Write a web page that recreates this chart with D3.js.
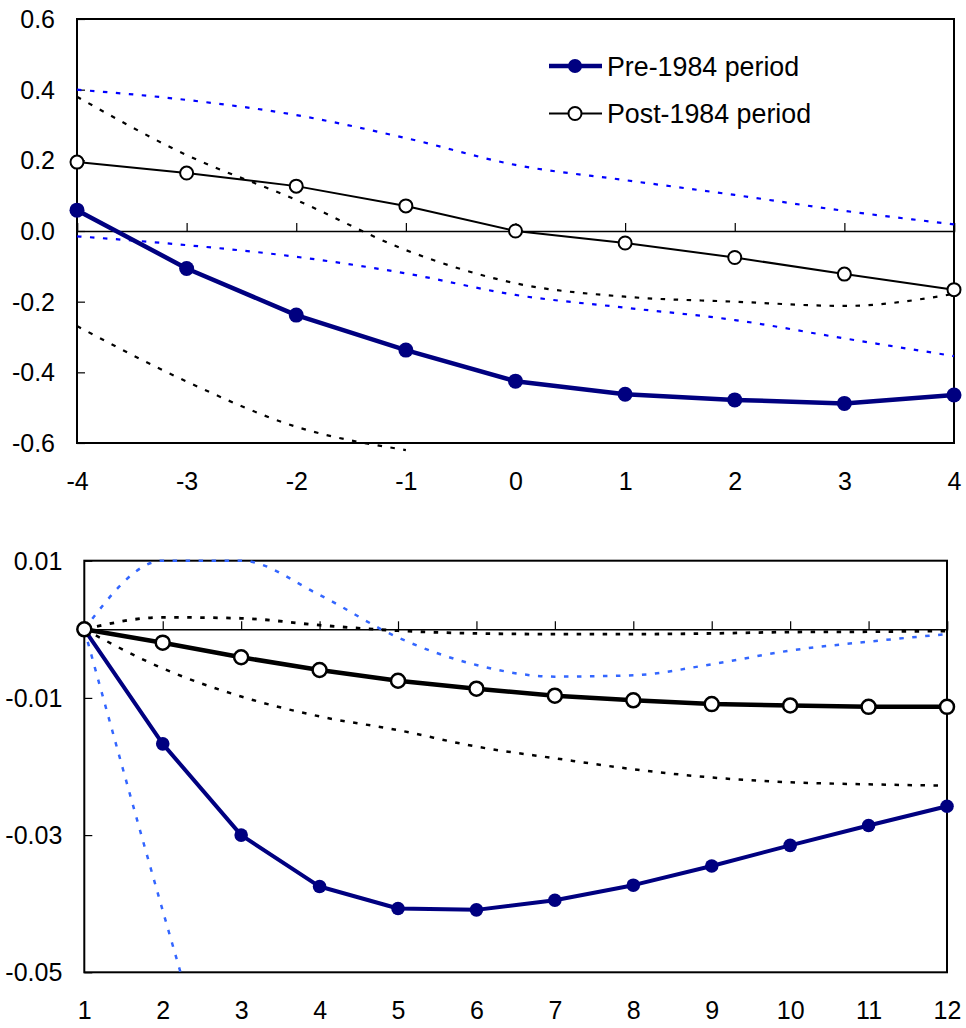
<!DOCTYPE html>
<html>
<head>
<meta charset="utf-8">
<script src="https://cdn.jsdelivr.net/npm/d3@7"></script>
<style>
  html, body { margin: 0; padding: 0; background: #fff; }
  svg { display: block; font-family: "Liberation Sans", Arial, sans-serif; }
</style>
</head>
<body>
<svg id="chart" width="966" height="1028"></svg>
<script>
// ---------- Top panel data ----------
const topX = [-4, -3, -2, -1, 0, 1, 2, 3, 4];
const topPre = [0.059, -0.106, -0.238, -0.337, -0.425, -0.462, -0.478, -0.488, -0.464];
const topPost = [0.195, 0.164, 0.127, 0.071, 0.0, -0.034, -0.075, -0.122, -0.166];
const topPostUpper = [0.40, 0.371, 0.328, 0.263, 0.187, 0.144, 0.102, 0.057, 0.019];
const topPostLower = [-0.015, -0.040, -0.073, -0.120, -0.181, -0.217, -0.252, -0.304, -0.354];
const topPreUpper = [0.38, 0.215, 0.088, -0.054, -0.148, -0.186, -0.200, -0.212, -0.178];
const topPreLower = [-0.269, -0.426, -0.554, -0.62, null, null, null, null, null];
const topYTicks = [0.6, 0.4, 0.2, 0.0, -0.2, -0.4, -0.6];
const topYLabels = ["0.6", "0.4", "0.2", "0.0", "-0.2", "-0.4", "-0.6"];
const topXLabels = ["-4", "-3", "-2", "-1", "0", "1", "2", "3", "4"];

// ---------- Bottom panel data ----------
const botX = [1, 2, 3, 4, 5, 6, 7, 8, 9, 10, 11, 12];
const botPre = [0, -0.0167, -0.0300, -0.0375, -0.0407, -0.0409, -0.0395, -0.0373, -0.0345, -0.0315, -0.0286, -0.0258];
const botPost = [0, -0.00195, -0.00408, -0.00593, -0.0075, -0.00866, -0.00968, -0.01035, -0.0109, -0.0111, -0.0113, -0.0113];
const botPreUpper = [0, 0.0100, 0.0100, 0.0050, -0.0012, -0.0052, -0.0069, -0.0067, -0.0051, -0.0031, -0.0018, -0.0007];
const botPreLower = [0, -0.041, -0.080, null, null, null, null, null, null, null, null, null];
const botPostUpper = [0, 0.00175, 0.0016, 0.0006, -0.0002, -0.0006, -0.0007, -0.0007, -0.0006, -0.0004, -0.00035, -0.00025];
const botPostLower = [0, -0.0057, -0.0098, -0.0127, -0.0147, -0.0171, -0.0188, -0.0204, -0.0216, -0.0223, -0.0226, -0.0228];
const botYTicks = [0.01, -0.01, -0.03, -0.05];
const botYLabels = ["0.01", "-0.01", "-0.03", "-0.05"];
const botXLabels = ["1", "2", "3", "4", "5", "6", "7", "8", "9", "10", "11", "12"];

const legendLabels = ["Pre-1984 period", "Post-1984 period"];

const NAVY = "#000080";
const BLUE_TOP = "#0000ff";
const BLUE_BOT = "#3366ff";
const DASH = "4.5,8.5";
const FONT = '"Liberation Sans", Arial, sans-serif';

const svg = d3.select("#chart");

function panel(cfg) {
  const x = d3.scaleLinear().domain(cfg.xDomain).range([cfg.left, cfg.right]);
  const y = d3.scaleLinear().domain(cfg.yDomain).range([cfg.bottom, cfg.top]);
  const g = svg.append("g");

  const clipId = "clip" + cfg.id;
  if (cfg.clip) {
    svg.append("defs").append("clipPath").attr("id", clipId)
      .append("rect").attr("x", cfg.left).attr("y", cfg.top - 2)
      .attr("width", cfg.right - cfg.left).attr("height", cfg.bottom - cfg.top + 2);
  }

  // frame
  g.append("rect")
    .attr("x", cfg.left).attr("y", cfg.top)
    .attr("width", cfg.right - cfg.left).attr("height", cfg.bottom - cfg.top)
    .attr("fill", "none").attr("stroke", "#000").attr("stroke-width", 2);

  // zero axis with upward ticks
  const xAxisZero = d3.axisTop(x).tickValues(cfg.xs).tickSize(8).tickFormat("");
  g.append("g").attr("transform", `translate(0,${y(0)})`).call(xAxisZero)
    .call(s => s.select(".domain").attr("stroke", "#000").attr("stroke-width", 1.5))
    .call(s => s.selectAll(".tick line").attr("stroke", "#000").attr("stroke-width", 1.2));

  // x labels below frame
  const xLab = d3.axisBottom(x).tickValues(cfg.xs).tickSize(0)
    .tickFormat((d, i) => cfg.xLabels[i]);
  g.append("g").attr("transform", `translate(0,${cfg.bottom})`).call(xLab)
    .call(s => s.select(".domain").remove())
    .call(s => s.selectAll("text").attr("y", 47).attr("dy", null)
      .attr("font-size", 25).attr("fill", "#000").attr("font-family", FONT));

  // y axis (inward ticks)
  const yAxis = d3.axisLeft(y).tickValues(cfg.yTicks).tickSizeInner(-8).tickSizeOuter(0)
    .tickPadding(22).tickFormat((d, i) => cfg.yLabels[i]);
  g.append("g").attr("transform", `translate(${cfg.left},0)`).call(yAxis)
    .call(s => s.select(".domain").remove())
    .call(s => s.selectAll(".tick line").attr("stroke", "#000").attr("stroke-width", 1.2))
    .call(s => s.selectAll("text").attr("font-size", 25).attr("fill", "#000").attr("dy", "0.34em")
      .attr("font-family", FONT));

  const plot = g.append("g");
  if (cfg.clip) plot.attr("clip-path", `url(#${clipId})`);

  const smooth = d3.line()
    .defined(d => d[1] !== null)
    .x(d => x(d[0])).y(d => y(d[1]))
    .curve(d3.curveMonotoneX);
  const straight = d3.line()
    .x(d => x(d[0])).y(d => y(d[1]));

  cfg.bands.forEach(b => {
    plot.append("path")
      .datum(cfg.xs.map((v, i) => [v, b.values[i]]))
      .attr("d", smooth)
      .attr("fill", "none").attr("stroke", b.color)
      .attr("stroke-width", b.width).attr("stroke-dasharray", DASH);
  });

  const mg = g.append("g");
  cfg.series.forEach(s => {
    const pts = cfg.xs.map((v, i) => [v, s.values[i]]);
    mg.append("path").datum(pts).attr("d", straight)
      .attr("fill", "none").attr("stroke", s.color).attr("stroke-width", s.width)
      .attr("stroke-linejoin", "round");
    mg.selectAll(null).data(pts).enter().append("circle")
      .attr("cx", d => x(d[0])).attr("cy", d => y(d[1]))
      .attr("r", s.r)
      .attr("fill", s.fill).attr("stroke", s.stroke).attr("stroke-width", s.mstroke);
  });
  return { x, y, g };
}

// Top panel
panel({
  id: "top", clip: false,
  left: 77, right: 954, top: 19, bottom: 443,
  xDomain: [-4, 4], yDomain: [-0.6, 0.6],
  xs: topX, xLabels: topXLabels, yTicks: topYTicks, yLabels: topYLabels,
  bands: [
    { values: topPostUpper, color: BLUE_TOP, width: 2.2 },
    { values: topPostLower, color: BLUE_TOP, width: 2.2 },
    { values: topPreUpper, color: "#000", width: 2.2 },
    { values: topPreLower, color: "#000", width: 2.2 }
  ],
  series: [
    { values: topPre, color: NAVY, width: 4.5, r: 7.5, fill: NAVY, stroke: NAVY, mstroke: 0 },
    { values: topPost, color: "#000", width: 2, r: 6.5, fill: "#fff", stroke: "#000", mstroke: 2 }
  ]
});

// Bottom panel
panel({
  id: "bot", clip: true,
  left: 84.3, right: 947, top: 560.7, bottom: 972.3,
  xDomain: [1, 12], yDomain: [-0.05, 0.01],
  xs: botX, xLabels: botXLabels, yTicks: botYTicks, yLabels: botYLabels,
  bands: [
    { values: botPreUpper, color: BLUE_BOT, width: 2.5 },
    { values: botPreLower, color: BLUE_BOT, width: 2.5 },
    { values: botPostUpper, color: "#000", width: 2.8 },
    { values: botPostLower, color: "#000", width: 2.5 }
  ],
  series: [
    { values: botPre, color: NAVY, width: 4, r: 6.8, fill: NAVY, stroke: NAVY, mstroke: 0 },
    { values: botPost, color: "#000", width: 4.5, r: 7, fill: "#fff", stroke: "#000", mstroke: 2.5 }
  ]
});

// Legend
const leg = svg.append("g");
const legItems = [
  { label: legendLabels[0], y: 66, color: NAVY, width: 4.5, fill: NAVY, stroke: NAVY, mstroke: 0, r: 7 },
  { label: legendLabels[1], y: 113.5, color: "#000", width: 2, fill: "#fff", stroke: "#000", mstroke: 2, r: 6.5 }
];
legItems.forEach(it => {
  leg.append("line").attr("x1", 549).attr("x2", 602).attr("y1", it.y).attr("y2", it.y)
    .attr("stroke", it.color).attr("stroke-width", it.width);
  leg.append("circle").attr("cx", 575).attr("cy", it.y).attr("r", it.r)
    .attr("fill", it.fill).attr("stroke", it.stroke).attr("stroke-width", it.mstroke);
  leg.append("text").attr("x", 607).attr("y", it.y + 9.5).attr("font-size", 26.8)
    .attr("fill", "#000").attr("font-family", FONT).text(it.label);
});
</script>
</body>
</html>
